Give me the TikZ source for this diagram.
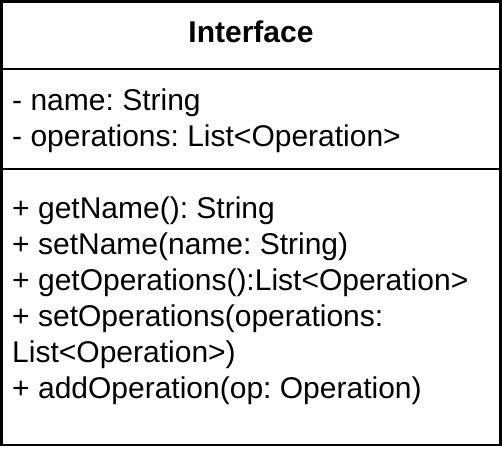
\documentclass[tikz,border=0pt]{standalone}
\usepackage{fontspec}
\setmainfont{Liberation Sans}
\usepackage{tikz}
\frenchspacing

\begin{document}
\begin{tikzpicture}[x=1pt, y=-1pt, line width=2.5pt]
  \def\boxw{500.5}
  \def\boxb{445}
  \def\lx{11}
  \tikzset{
    member/.style={anchor=base west, inner sep=0pt, font=\fontsize{30}{36}\selectfont},
    classname/.style={anchor=base, inner sep=0pt, font=\fontsize{30}{36}\selectfont\bfseries}
  }
  \useasboundingbox (0,0) rectangle (502,464);
  % class box and compartments
  \coordinate (tl) at (1.25,1.25);
  \coordinate (br) at (\boxw,\boxb);
  \coordinate (s1l) at (1.25,68.75);
  \coordinate (s1r) at (\boxw,68.75);
  \coordinate (s2l) at (1.25,168.75);
  \coordinate (s2r) at (\boxw,168.75);
  \draw (tl) rectangle (br);
  \draw (s1l) -- (s1r);
  \draw (s2l) -- (s2r);
  \node[classname] (title) at (251,42.3) {Interface};
  % attributes
  \node[member] (attr1) at (\lx,110) {- name: String};
  \node[member] (attr2) at (\lx,146) {- operations: List<Operation>};
  % operations
  \foreach \txt [count=\i] in {%
      + getName(): String,
      + setName(name: String),
      + getOperations():List<Operation>,
      + setOperations(operations:,
      List<Operation>),
      + addOperation(op: Operation)}
    \node[member] (op\i) at (\lx,{218.3+36*(\i-1)}) {\txt};
\end{tikzpicture}
\end{document}
